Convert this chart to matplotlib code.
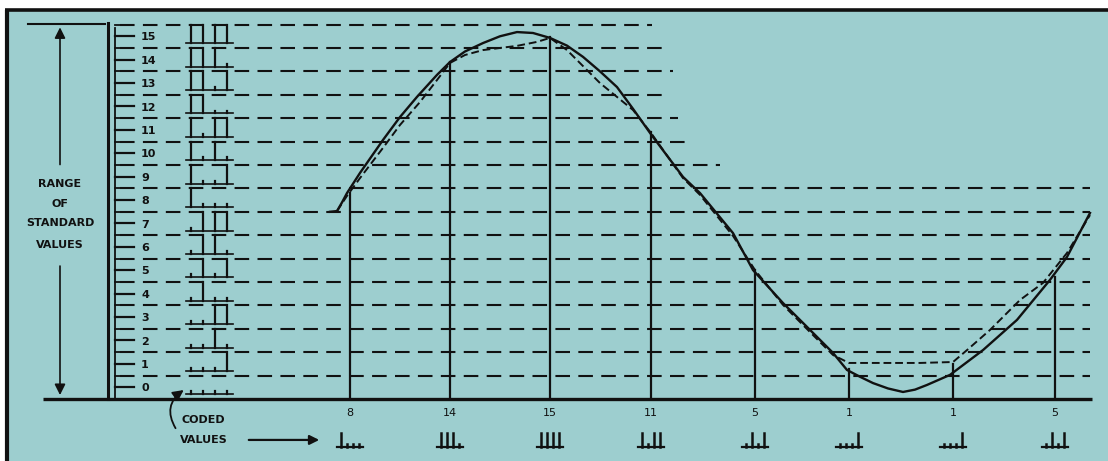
import matplotlib
matplotlib.use('Agg')
import matplotlib.pyplot as plt
from matplotlib.patches import Rectangle

# sample instants (horizontal position along the time axis) and their coded values
sample_x = [350, 450, 550, 651, 755, 849, 953, 1055]
codes = [8, 14, 15, 11, 5, 1, 1, 5]
# height the sample lines reach on the drawing
sample_top = [8.8, 14.4, 15.45, 11.4, 5.5, 1.3, 1.5, 5.2]

# original analog signal (x, level)
signal_x = [330, 337, 342, 347, 360, 383, 400, 417, 437, 450, 465, 483, 500, 517, 533,
            550, 567, 583, 600, 617, 633, 650, 667, 683, 700, 733, 753, 783, 807, 833,
            847, 860, 873, 888, 903, 915, 927, 950, 983, 1017, 1050, 1067, 1090]
signal_y = [8.0, 8.03, 8.4, 8.80, 9.66, 11.07, 12.05, 12.91, 13.85, 14.40, 14.85, 15.21,
            15.5, 15.68, 15.64, 15.43, 15.1, 14.62, 14.0, 13.33, 12.4, 11.37, 10.4, 9.49,
            8.80, 7.09, 5.51, 4.10, 3.08, 1.97, 1.24, 0.95, 0.68, 0.45, 0.30, 0.4, 0.60,
            1.03, 2.09, 3.38, 5.09, 6.07, 7.95]

# reconstructed (quantized) signal, dashed
recon_x = [337, 347, 360, 383, 400, 420, 437, 450, 465, 483, 517, 537, 550, 567, 600,
           633, 651, 683, 700, 733, 755, 783, 810, 833, 849, 880, 920, 953, 967, 990,
           1020, 1043, 1067, 1090]
recon_y = [8.03, 8.68, 9.44, 10.73, 11.71, 12.69, 13.63, 14.36, 14.7, 14.91, 15.09,
           15.26, 15.43, 14.91, 13.50, 12.35, 11.37, 9.44, 8.72, 6.97, 5.51, 4.02, 2.86,
           1.88, 1.54, 1.54, 1.54, 1.58, 2.09, 2.95, 4.23, 4.96, 6.24, 7.86]

# standard levels and how far each dashed level line runs to the right
levels = list(range(16))
line_levels = list(range(1, 17))
line_ends = [1090, 1090, 1090, 1090, 1090, 1090, 1090, 1090, 1090, 720,
             685, 678, 670, 673, 665, 652]

BG = '#9dcecf'
INK = '#111111'

fig = plt.figure(figsize=(11.08, 4.61), dpi=100)
fig.patch.set_facecolor('white')
ax = fig.add_axes([0, 0, 1, 1])
ax.set_xlim(0, 1108)
ax.set_ylim(-2.65, 17.05)
ax.axis('off')

# panel background + top/left border
ax.add_patch(Rectangle((7, -2.65), 1101, 16.6 + 2.65, facecolor=BG, edgecolor='none', zorder=0))
ax.plot([5, 1108], [16.62, 16.62], color=INK, lw=2.6, solid_capstyle='butt')
ax.plot([7, 7], [-2.65, 16.62], color=INK, lw=3, solid_capstyle='butt')

# dashed level lines
for lv, xe in zip(line_levels, line_ends):
    ax.plot([120, xe], [lv, lv], color=INK, lw=1.5, ls=(0, (7, 4)), zorder=2)

# scale at left: two verticals and ticks
ax.plot([108, 108], [0, 16.05], color=INK, lw=2.2)
ax.plot([115, 115], [0, 15.85], color=INK, lw=1.3)
for lv in levels:
    ax.plot([115, 134], [lv + 0.5, lv + 0.5], color=INK, lw=1.6)
    ax.plot([115, 127], [lv + 1, lv + 1], color=INK, lw=1.3)
    ax.text(141, lv + 0.45, str(lv), ha='left', va='center', fontsize=8,
            fontweight='bold', color=INK)

# binary code glyphs next to each level (MSB first)
pulse_off = [191, 203, 215, 227]
for lv in levels:
    base = lv + 0.2
    bits = [(lv >> (3 - i)) & 1 for i in range(4)]
    ax.plot([186, 233], [base, base], color=INK, lw=1.2)
    for px, b in zip(pulse_off, bits):
        h = 0.8 if b else 0.12
        ax.plot([px, px], [base, base + h], color=INK, lw=1.6)

# baseline
ax.plot([43, 1092], [0, 0], color=INK, lw=2.4, solid_capstyle='butt', zorder=4)
ax.plot([28, 105], [16.03, 16.03], color=INK, lw=1.5)

# range of standard values arrow
ax.annotate('', xy=(60, 16.0), xytext=(60, 9.9),
            arrowprops=dict(arrowstyle='-|>', color=INK, lw=1.2, mutation_scale=16))
ax.annotate('', xy=(60, 0.05), xytext=(60, 5.8),
            arrowprops=dict(arrowstyle='-|>', color=INK, lw=1.2, mutation_scale=16))
for txt, yy in zip(['RANGE', 'OF', 'STANDARD', 'VALUES'], [9.2, 8.35, 7.5, 6.6]):
    ax.text(60, yy, txt, ha='center', va='center', fontsize=8, fontweight='bold', color=INK)

# sample verticals
for sx, top in zip(sample_x, sample_top):
    ax.plot([sx, sx], [0, top], color=INK, lw=1.6, zorder=3)

# signal curves
ax.plot(signal_x, signal_y, color=INK, lw=1.7, zorder=5, solid_joinstyle='round')
ax.plot(recon_x, recon_y, color=INK, lw=1.4, ls=(0, (4, 2)), zorder=5)

# coded values below the axis
for sx, c in zip(sample_x, codes):
    ax.text(sx, -0.62, str(c), ha='center', va='center', fontsize=8, color=INK)
    bits = [(c >> (3 - i)) & 1 for i in range(4)]
    base = -2.05
    ax.plot([sx - 13, sx + 13], [base, base], color=INK, lw=1.6)
    for off, b in zip([-9, -3, 3, 9], bits):
        h = 0.6 if b else 0.12
        ax.plot([sx + off, sx + off], [base, base + h], color=INK, lw=1.8)

ax.text(182, -0.9, 'CODED', ha='left', va='center', fontsize=8, fontweight='bold', color=INK)
ax.text(180, -1.75, 'VALUES', ha='left', va='center', fontsize=8, fontweight='bold', color=INK)
ax.annotate('', xy=(322, -1.75), xytext=(246, -1.75),
            arrowprops=dict(arrowstyle='-|>', color=INK, lw=1.6, mutation_scale=14))
ax.annotate('', xy=(186, 0.45), xytext=(177, -1.35),
            arrowprops=dict(arrowstyle='-|>', color=INK, lw=1.3, mutation_scale=16,
                            connectionstyle='arc3,rad=-0.5'))

fig.savefig('out.png', dpi=100, facecolor=fig.get_facecolor())
